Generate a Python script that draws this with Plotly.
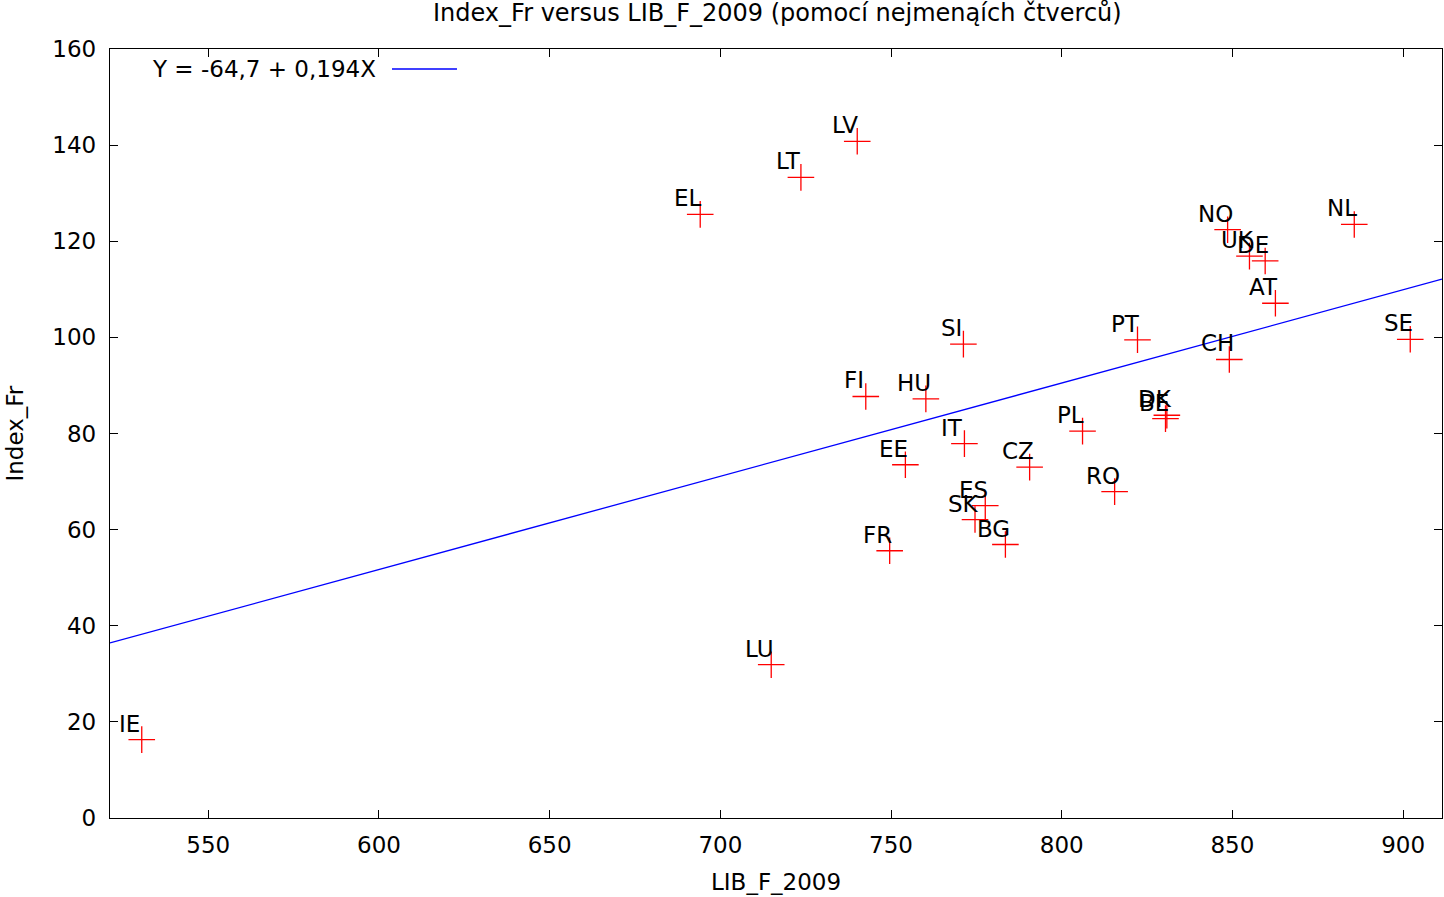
import plotly.graph_objects as go

countries = ["IE", "LU", "EL", "LT", "LV", "FI", "HU", "SI", "IT", "EE", "CZ", "PL", "RO",
             "ES", "SK", "BG", "FR", "DK", "BE", "NO", "UK", "DE", "AT", "NL", "PT", "CH", "SE"]
lib_f_2009 = [530.5, 714.9, 694.1, 723.6, 740.1, 742.6, 760.2, 771.2, 771.5, 754.2, 790.6, 806.1, 815.5,
              777.6, 774.6, 783.5, 749.6, 830.8, 830.4, 848.6, 855.0, 859.6, 862.6, 885.7, 822.2, 849.1, 902.1]
index_fr = [16.3, 31.9, 125.6, 133.3, 140.8, 87.7, 87.2, 98.6, 77.9, 73.5, 73.0, 80.5, 67.9,
            65.0, 62.1, 56.9, 55.6, 83.8, 83.1, 122.4, 116.9, 115.9, 107.1, 123.5, 99.5, 95.4, 99.6]

intercept = -64.7
slope = 0.194
x_range = [521.2, 911.4]
y_range = [0, 160]
x_ticks = [550, 600, 650, 700, 750, 800, 850, 900]
y_ticks = [0, 20, 40, 60, 80, 100, 120, 140, 160]

FONT = "DejaVu Sans, Verdana, sans-serif"
FS = 23

fig = go.Figure()

fig.add_trace(go.Scatter(
    x=x_range, y=[intercept + slope * v for v in x_range],
    mode="lines", line=dict(color="#0000ff", width=1.3),
    showlegend=False, hoverinfo="skip"))

fig.add_trace(go.Scatter(
    x=lib_f_2009, y=index_fr, mode="markers",
    marker=dict(symbol="cross-thin", size=19, color="#ff0000",
                line=dict(color="#ff0000", width=1.3)),
    showlegend=False))

for c, xv, yv in zip(countries, lib_f_2009, index_fr):
    fig.add_annotation(x=xv, y=yv, text=c, showarrow=False,
                       xshift=-12, yshift=16, xanchor="center", yanchor="middle",
                       font=dict(family=FONT, size=FS, color="black"))

# legend (gnuplot style: text then line sample)
fig.add_annotation(xref="paper", yref="paper", x=0.2012, y=0.974,
                   text="Y = -64,7 + 0,194X", showarrow=False,
                   xanchor="right", yanchor="middle",
                   font=dict(family=FONT, size=FS, color="black"))
fig.add_shape(type="line", xref="paper", yref="paper",
              x0=0.2117, x1=0.2605, y0=0.974, y1=0.974,
              line=dict(color="#0000ff", width=1.3))

# title and axis titles
fig.add_annotation(xref="paper", yref="paper", x=0.501, y=1, yshift=36,
                   text="Index_Fr versus LIB_F_2009 (pomocí nejmenąích čtverců)",
                   showarrow=False, xanchor="center", yanchor="middle",
                   font=dict(family=FONT, size=24, color="black"))
fig.add_annotation(xref="paper", yref="paper", x=0.5, y=0, yshift=-64,
                   text="LIB_F_2009", showarrow=False, xanchor="center", yanchor="middle",
                   font=dict(family=FONT, size=FS, color="black"))
fig.add_annotation(xref="paper", yref="paper", x=0, y=0.5, xshift=-96,
                   text="Index_Fr", textangle=-90, showarrow=False,
                   xanchor="center", yanchor="middle",
                   font=dict(family=FONT, size=FS, color="black"))

axis_common = dict(showgrid=False, zeroline=False, showline=True, linecolor="black",
                   linewidth=1.3, mirror="allticks", ticks="inside", ticklen=8,
                   tickcolor="black", tickwidth=1,
                   tickfont=dict(family=FONT, size=FS, color="black"))

fig.update_xaxes(range=x_range, tickvals=x_ticks, ticklabelstandoff=6, **axis_common)
fig.update_yaxes(range=y_range, tickvals=y_ticks, ticklabelstandoff=8, **axis_common)

fig.update_layout(
    width=1444, height=897,
    margin=dict(l=110, r=2, t=49, b=79, autoexpand=False),
    paper_bgcolor="white", plot_bgcolor="white",
)

fig.write_html("out.html", config={"displayModeBar": False},
               post_script="document.body.style.margin='0px';document.body.style.overflow='hidden';")
